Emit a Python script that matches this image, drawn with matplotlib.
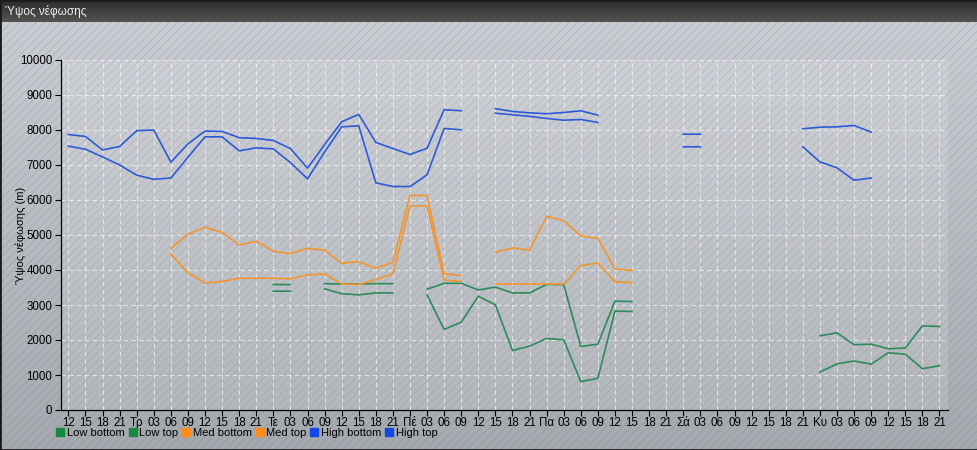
import numpy as np
import matplotlib
matplotlib.use("Agg")
import matplotlib.pyplot as plt
from matplotlib.patches import Rectangle
from matplotlib.lines import Line2D

plt.rcParams['font.family'] = ['Liberation Sans', 'DejaVu Sans']
plt.rcParams['hatch.linewidth'] = 0.7

nan = np.nan

tick_labels = ["12", "15", "18", "21", "Τρ", "03", "06", "09", "12", "15", "18", "21",
               "Τε", "03", "06", "09", "12", "15", "18", "21", "Πέ", "03", "06", "09",
               "12", "15", "18", "21", "Πα", "03", "06", "09", "12", "15", "18", "21",
               "Σά", "03", "06", "09", "12", "15", "18", "21", "Κυ", "03", "06", "09",
               "12", "15", "18", "21"]

low_bottom = [nan]*12 + [3395, 3395, nan, 3460, 3325, 3290, 3345, 3345, nan,
              3290, 2300, 2510, 3250, 3005, 1700, 1825, 2045, 2005, 810, 905, 2825, 2815] \
             + [nan]*10 + [1085, 1320, 1400, 1310, 1635, 1595, 1180, 1265]
low_top = [nan]*12 + [3585, 3585, nan, 3610, 3600, 3600, 3610, 3610, nan,
           3450, 3620, 3620, 3430, 3510, 3345, 3345, 3585, 3585, 1815, 1880, 3110, 3100] \
          + [nan]*10 + [2120, 2205, 1865, 1880, 1750, 1770, 2405, 2385]
med_bottom = [nan]*6 + [4460, 3915, 3630, 3670, 3765, 3765, 3765, 3745, 3860, 3890,
                        3600, 3585, 3725, 3890, 5830, 5830, 3715, 3670, nan,
                        3600, 3600, 3600, 3600, 3600, 4125, 4200, 3660, 3640] + [nan]*18
med_top = [nan]*6 + [4620, 5020, 5220, 5075, 4715, 4820, 4535, 4470, 4620, 4565,
                     4190, 4240, 4050, 4220, 6130, 6130, 3895, 3840, nan,
                     4505, 4630, 4565, 5535, 5410, 4975, 4905, 4030, 3985] + [nan]*18
high_bottom = [7540, 7450, 7230, 7000, 6710, 6590, 6630, 7220, 7805, 7805, 7405, 7490,
               7460, 7070, 6605, 7370, 8090, 8120, 6490, 6385, 6385, 6720, 8045, 8005, nan,
               8480, 8435, 8390, 8330, 8280, 8300, 8215, nan, nan, nan, nan, 7520, 7520,
               nan, nan, nan, nan, nan, 7520, 7090, 6920, 6565, 6630, nan, nan, nan, nan]
high_top = [7870, 7815, 7430, 7530, 7980, 8000, 7080, 7605, 7970, 7960, 7780, 7760,
            7700, 7470, 6910, 7580, 8235, 8445, 7645, 7470, 7300, 7480, 8580, 8550, nan,
            8610, 8530, 8490, 8465, 8500, 8550, 8425, nan, nan, nan, nan, 7880, 7880,
            nan, nan, nan, nan, nan, 8035, 8080, 8090, 8130, 7940, nan, nan, nan, nan]

series_names = ["Low bottom", "Low top", "Med bottom", "Med top", "High bottom", "High top"]
series = [low_bottom, low_top, med_bottom, med_top, high_bottom, high_top]
line_colors = ["#2e8b5c", "#2e8b5c", "#f3952f", "#f3952f", "#2d5bd8", "#2d5bd8"]
legend_colors = ["#14893f", "#14893f", "#ff8c1a", "#ff8c1a", "#1248e6", "#1248e6"]

W, H = 978, 450
fig = plt.figure(figsize=(W/100, H/100), dpi=100)

# background gradient
bg = fig.add_axes([0, 0, 1, 1], zorder=-10)
bg.set_axis_off()
grad = np.linspace(0, 1, 256).reshape(-1, 1)
top_c = np.array([0.80, 0.81, 0.83])
bot_c = np.array([0.65, 0.665, 0.68])
img = top_c[None, None, :] * (1 - grad[:, :, None]) + bot_c[None, None, :] * grad[:, :, None]
bg.imshow(img, extent=[0, 1, 0, 1], aspect='auto', origin='upper')
bg.set_xlim(0, 1); bg.set_ylim(0, 1)
bg.add_patch(Rectangle((0, 0), 1, 1, facecolor='none', hatch='////',
                       edgecolor=(0.45, 0.52, 0.65, 0.28), linewidth=0))
# title bar
tb_h = 22 / H
tgrad = np.linspace(0, 1, 64).reshape(-1, 1)
tc1 = np.array([0.17, 0.17, 0.17]); tc2 = np.array([0.33, 0.33, 0.33])
timg = tc1[None, None, :] * (1 - tgrad[:, :, None]) + tc2[None, None, :] * tgrad[:, :, None]
bg.imshow(timg, extent=[0, 1, 1 - tb_h, 1], aspect='auto', origin='upper', zorder=2)
bg.add_patch(Rectangle((0, 0), 1, 1, facecolor='none', edgecolor='#1a1a1a', linewidth=2, zorder=3))
bg.text(5 / W, 1 - 12 / H, "Ύψος νέφωσης", color='#f0f0f0', fontsize=8.5,
        va='center', ha='left', zorder=4)

# main axes
left, right, top, bottom = 60.7, 948, 60, 410
ax = fig.add_axes([left / W, 1 - bottom / H, (right - left) / W, (bottom - top) / H])
ax.set_facecolor((1, 1, 1, 0.13))
x = np.arange(len(tick_labels))
for vals, c in zip(series, line_colors):
    ax.plot(x, np.array(vals, dtype=float), color=c, lw=1.2)

ax.set_xlim(-0.45, 51.5)
ax.set_ylim(0, 10000)
ax.set_xticks(x)
ax.set_xticklabels(tick_labels, fontsize=8.3)
ax.set_yticks(np.arange(0, 10001, 1000))
ax.tick_params(axis='y', labelsize=8.3, length=4, width=0.8, pad=2)
ax.tick_params(axis='x', length=4, width=0.8, pad=1)
ax.grid(True, color='white', alpha=0.6, linestyle=(0, (4, 3)), linewidth=0.8)
ax.set_axisbelow(True)
for s in ['top', 'right']:
    ax.spines[s].set_visible(False)
for s in ['left', 'bottom']:
    ax.spines[s].set_color('black')
    ax.spines[s].set_linewidth(0.9)
ax.set_ylabel("Ύψος νέφωσης (m)", fontsize=8)
ax.yaxis.set_label_coords((26 - left) / (right - left), 0.5)

handles = [Line2D([], [], marker='s', linestyle='none', markersize=5.5,
                  markerfacecolor=c, markeredgecolor=c) for c in legend_colors]
fig.legend(handles, series_names, loc='center left', bbox_to_anchor=(57 / W, 1 - 433 / H),
           ncol=6, frameon=False, fontsize=8, handlelength=0.6, handletextpad=0.3,
           columnspacing=0.4, borderaxespad=0, borderpad=0)

fig.savefig("out.png", dpi=100)
